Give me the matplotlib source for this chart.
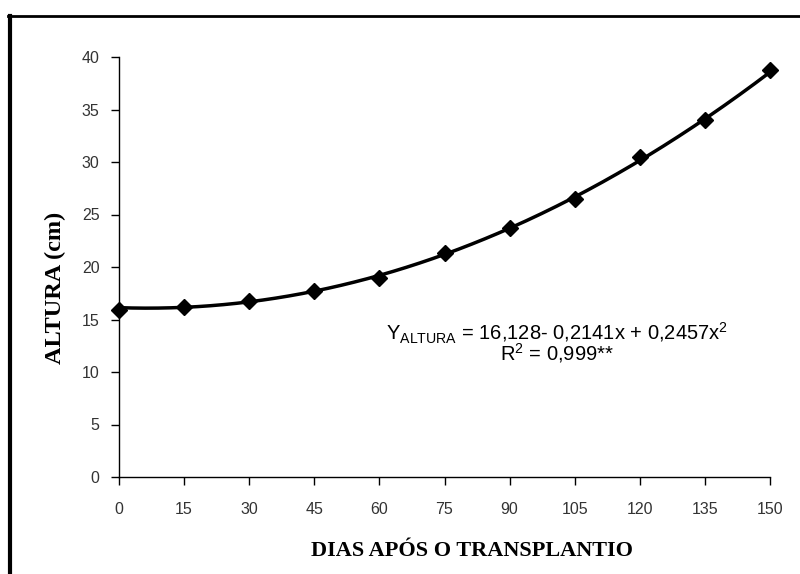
import numpy as np
import matplotlib.pyplot as plt
from matplotlib.lines import Line2D

# dias apos o transplantio e altura media (cm)
dias = [0, 15, 30, 45, 60, 75, 90, 105, 120, 135, 150]
altura = [15.9, 16.2, 16.8, 17.7, 19.0, 21.3, 23.7, 26.5, 30.5, 34.0, 38.8]
# coeficientes da equacao ajustada (x = dias / 15)
coef = [0.2457, -0.2141, 16.128]

fig = plt.figure(figsize=(8, 5.74), dpi=100)
ax = fig.add_axes([119 / 800, 1 - 477 / 574, (770 - 119) / 800, (477 - 57) / 574])

xs = np.linspace(0, 150, 300)
ax.plot(xs, np.polyval(coef, xs / 15), color="black", lw=2.5, zorder=2)
ax.plot(dias, altura, ls="none", marker="D", ms=8, color="black", zorder=3, clip_on=False)

ax.set_xlim(0, 150)
ax.set_ylim(0, 40)
ax.set_xticks(dias)
ax.set_yticks(range(0, 41, 5))
for s in ["top", "right"]:
    ax.spines[s].set_visible(False)
for s in ["left", "bottom"]:
    ax.spines[s].set_linewidth(1.0)
ax.tick_params(direction="out", length=6, width=1, labelsize=11.5,
               labelcolor="#333333", pad=12)
ax.tick_params(axis="y", pad=8)
for t in ax.get_xticklabels() + ax.get_yticklabels():
    t.set_family("Liberation Sans")

fig.text(55 / 800, 1 - 288 / 574, "ALTURA (cm)", rotation=90, ha="center", va="center",
         family="Liberation Serif", weight="bold", fontsize=17.5)
fig.text(472 / 800, 1 - 551 / 574, "DIAS APÓS O TRANSPLANTIO", ha="center", va="center",
         family="Liberation Serif", weight="bold", fontsize=16)

eq = (r"Y$_{\mathregular{ALTURA}}$ = 16,128- 0,2141x + 0,2457x$^{\mathregular{2}}$" + "\n"
      + r"R$^{\mathregular{2}}$ = 0,999**")
fig.text(557 / 800, 1 - 343 / 574, eq, ha="center", va="center", multialignment="center",
         family="Liberation Sans", fontsize=14.5, linespacing=0.75)

# moldura externa
fig.add_artist(Line2D([9.5 / 800, 9.5 / 800], [0, 1 - 15.5 / 574], color="black", lw=3,
                      transform=fig.transFigure))
fig.add_artist(Line2D([8 / 800, 1], [1 - 15.5 / 574, 1 - 15.5 / 574], color="black", lw=2,
                      transform=fig.transFigure))

fig.savefig("out.png", dpi=100)
